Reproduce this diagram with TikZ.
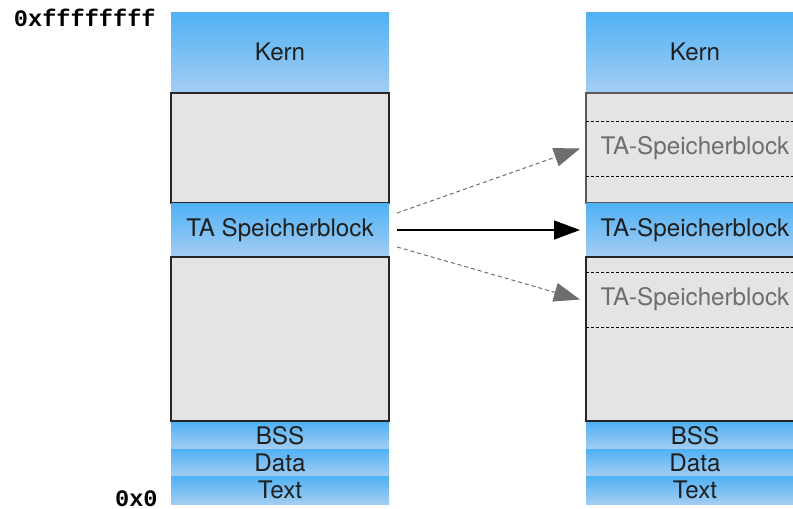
\documentclass[tikz,border=0pt]{standalone}
\usepackage{fontspec}
\setmainfont{TeX Gyre Heros}
\newfontfamily\addrfont{Liberation Mono}
\usetikzlibrary{arrows.meta}
\definecolor{segtop}{RGB}{80,177,245}
\definecolor{segbot}{RGB}{163,205,242}
\definecolor{freegray}{RGB}{228,228,228}
\definecolor{ghostgray}{RGB}{110,110,110}
\tikzset{
	seg/.style={minimum width=109pt, inner sep=0pt, outer sep=0pt, top color=segtop, bottom color=segbot, text=black!88, font=\fontsize{12.1}{14}\selectfont},
	free/.style={minimum width=109pt, inner sep=0pt, outer sep=0pt, fill=freegray, draw=black!85, line width=0.6pt},
	ghost/.style={minimum width=109pt, minimum height=27.5pt, inner sep=0pt, outer sep=0pt, text=ghostgray, font=\fontsize{12.1}{14}\selectfont},
	ghostline/.style={line width=0.5pt, dash pattern=on 1.5pt off 1pt},
	addr/.style={anchor=east, inner sep=0pt, font=\addrfont\bfseries\fontsize{11.8}{14}\selectfont},
	moveto/.style={-{Triangle[length=13pt,width=9.5pt]}, line width=0.6pt},
	maybeto/.style={moveto, ghostgray, line width=0.5pt, dash pattern=on 2pt off 1.5pt}
}

\begin{document}
\begin{tikzpicture}[x=0.5pt, y=-0.5pt]
	%%%%% START %%%%%
	\useasboundingbox (0,0) rectangle (793,509);
	
	\node[addr] (topaddr) at (156,18) {0xffffffff};
	\node[addr] (botaddr) at (158,498.5) {0x0};
	
	% left column
	\node[seg, minimum height=40pt] (kernL) at (280,52) {Kern};
	\node[free, minimum height=55pt] (freeL1) at (280,148) {};
	\node[seg, minimum height=27pt] (taL) at (280,230) {TA Speicherblock};
	\node[free, minimum height=82pt] (freeL2) at (280,339) {};
	\node[seg, minimum height=13.5pt] (bssL) at (280,435.5) {BSS};
	\node[seg, minimum height=13.5pt] (dataL) at (280,462.5) {Data};
	\node[seg, minimum height=14pt] (textL) at (280,490) {Text};
	
	% right column
	\node[seg, minimum height=40pt] (kernR) at (695,52) {Kern};
	\node[free, minimum height=55pt, draw=black!65] (freeR1) at (695,148) {};
	\node[seg, minimum height=27pt] (taR) at (695,230) {TA-Speicherblock};
	\node[free, minimum height=82pt] (freeR2) at (695,339) {};
	\node[seg, minimum height=13.5pt] (bssR) at (695,435.5) {BSS};
	\node[seg, minimum height=13.5pt] (dataR) at (695,462.5) {Data};
	\node[seg, minimum height=14pt] (textR) at (695,490) {Text};
	
	\node[ghost] (ghostA) at (695,148.5) {TA-Speicherblock};
	\draw[ghostline] (ghostA.north west) -- (ghostA.north east);
	\draw[ghostline] (ghostA.south west) -- (ghostA.south east);
	\node[ghost] (ghostB) at (695,299.5) {TA-Speicherblock};
	\draw[ghostline] (ghostB.north west) -- (ghostB.north east);
	\draw[ghostline] (ghostB.south west) -- (ghostB.south east);
	
	% arrows
	\draw[moveto] ([xshift=4pt]taL.east) -- ([xshift=-3pt]taR.west);
	\draw[maybeto] ([shift={(8,-17)}]taL.east) -- ([xshift=-3pt]ghostA.west);
	\draw[maybeto] ([shift={(8,17)}]taL.east) -- ([xshift=-3pt]ghostB.west);
	
	%%%%% END %%%%%
\end{tikzpicture}
\end{document}
